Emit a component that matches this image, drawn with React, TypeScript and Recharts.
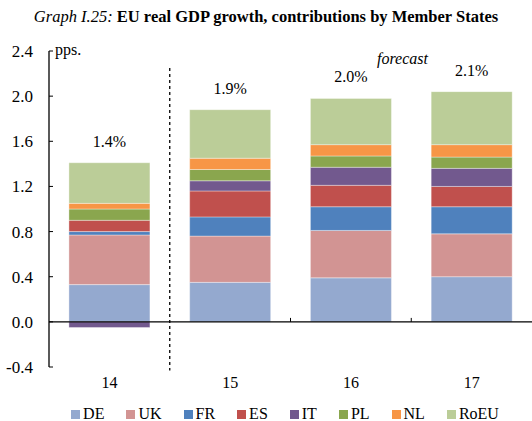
import React from "react";
import {
  BarChart,
  Bar,
  XAxis,
  YAxis,
  ReferenceLine,
  LabelList,
} from "recharts";

const categories = ["14", "15", "16", "17"];
const totalLabels = ["1.4%", "1.9%", "2.0%", "2.1%"];
const seriesNames = ["DE", "UK", "FR", "ES", "IT", "PL", "NL", "RoEU"];
const DE = [0.33, 0.35, 0.39, 0.4];
const UK = [0.44, 0.41, 0.42, 0.38];
const FR = [0.03, 0.17, 0.21, 0.24];
const ES = [0.1, 0.23, 0.19, 0.18];
const IT = [-0.05, 0.09, 0.16, 0.16];
const PL = [0.1, 0.1, 0.1, 0.1];
const NL = [0.05, 0.1, 0.1, 0.11];
const RoEU = [0.36, 0.43, 0.41, 0.47];
const yTicks = [-0.4, 0, 0.4, 0.8, 1.2, 1.6, 2.0, 2.4];
const xTicks = [0, 1, 2, 3];
const boundaries = [1.5, 2.5];
const forecastStart = 0.5;

const colors: Record<string, string> = {
  DE: "#94A9CF",
  UK: "#D29493",
  FR: "#4F81BD",
  ES: "#C0504D",
  IT: "#72598E",
  PL: "#8AA64E",
  NL: "#F79646",
  RoEU: "#BBCD98",
};

const seriesValues: Record<string, number[]> = { DE, UK, FR, ES, IT, PL, NL, RoEU };

const data = categories.map((c, i) => {
  const row: Record<string, number | string> = { idx: i, cat: c, total: totalLabels[i] };
  seriesNames.forEach((s) => {
    row[s] = seriesValues[s][i];
  });
  return row;
});

const FONT = '"Liberation Serif", "DejaVu Serif", serif';
const W = 532;
const H = 421;

const YTick = (props: any) => {
  const { x, y, payload } = props;
  return (
    <g>
      <line x1={x + 16} x2={x + 20} y1={y} y2={y} stroke="#000" strokeWidth={1} />
      <text x={x} y={y} dy="0.35em" textAnchor="end" style={{ fontFamily: FONT }} fontSize={17} fill="#000">
        {Number(payload.value).toFixed(1)}
      </text>
    </g>
  );
};

const XTick = (props: any) => {
  const { x, y, payload } = props;
  return (
    <text x={x} y={y} dy="0.71em" textAnchor="middle" style={{ fontFamily: FONT }} fontSize={16} fill="#000">
      {categories[payload.value]}
    </text>
  );
};

const TotalLabel = (props: any) => {
  const { x, y, width, index } = props;
  return (
    <text
      x={x + width / 2}
      y={y - 16}
      textAnchor="middle"
      style={{ fontFamily: FONT }}
      fontSize={16}
      fill="#000"
    >
      {totalLabels[index]}
    </text>
  );
};

export default function App() {
  return (
    <div style={{ position: "absolute", left: 0, top: 0, width: W, height: H, background: "#fff", fontFamily: FONT }}>
      <div
        style={{
          position: "absolute",
          left: 0,
          top: 7,
          width: W,
          textAlign: "center",
          fontSize: 16.5,
          color: "#000",
          whiteSpace: "nowrap",
        }}
      >
        <i>Graph I.25:</i> <b>EU real GDP growth, contributions by Member States</b>
      </div>
      <div style={{ position: "absolute", left: 0, top: 0 }}>
        <BarChart
          width={W}
          height={H}
          data={data}
          margin={{ top: 51, right: 0, bottom: 24, left: 0 }}
          barCategoryGap="16.5%"
          stackOffset="sign"
        >
          <XAxis
            dataKey="idx"
            type="number"
            domain={[-0.5, 3.5]}
            allowDataOverflow
            ticks={xTicks}
            interval={0}
            axisLine={false}
            tickLine={false}
            tickSize={0}
            tickMargin={10}
            height={30}
            tick={<XTick />}
          />
          <YAxis
            domain={[-0.4, 2.4]}
            ticks={yTicks}
            allowDataOverflow
            width={49}
            tickSize={0}
            tickMargin={16}
            tickLine={false}
            axisLine={{ stroke: "#000", strokeWidth: 1.3 }}
            tick={<YTick />}
            interval={0}
          />
          {seriesNames.map((s) => (
            <Bar
              key={s}
              dataKey={s}
              stackId="a"
              fill={colors[s]}
              stroke="#ffffff"
              strokeOpacity={0.6}
              strokeWidth={0.6}
              isAnimationActive={false}
            >
              {s === "RoEU" ? <LabelList dataKey="total" content={<TotalLabel />} /> : null}
            </Bar>
          ))}
          <ReferenceLine y={0} stroke="#000" strokeWidth={1.3} />
          {boundaries.map((b) => (
            <ReferenceLine
              key={b}
              ifOverflow="visible"
              segment={[
                { x: b, y: 0 },
                { x: b, y: 0.035 },
              ]}
              stroke="#000"
              strokeWidth={1}
            />
          ))}
          <ReferenceLine
            ifOverflow="visible"
            segment={[
              { x: forecastStart, y: 2.25 },
              { x: forecastStart, y: -0.43 },
            ]}
            stroke="#000"
            strokeWidth={1.3}
            strokeDasharray="3 3"
          />
        </BarChart>
      </div>
      <div style={{ position: "absolute", left: 55, top: 41, fontSize: 16, color: "#000" }}>pps.</div>
      <div
        style={{ position: "absolute", left: 377, top: 50, fontSize: 16, fontStyle: "italic", color: "#000" }}
      >
        forecast
      </div>
      <div
        style={{
          position: "absolute",
          left: 30,
          top: 405,
          width: W - 22,
          display: "flex",
          justifyContent: "center",
          gap: 22,
          fontSize: 16,
          color: "#000",
          lineHeight: "18px",
        }}
      >
        {seriesNames.map((s) => (
          <div key={s} style={{ display: "flex", alignItems: "center" }}>
            <span style={{ display: "inline-block", width: 9, height: 9, background: colors[s], marginRight: 3 }} />
            <span>{s}</span>
          </div>
        ))}
      </div>
    </div>
  );
}
